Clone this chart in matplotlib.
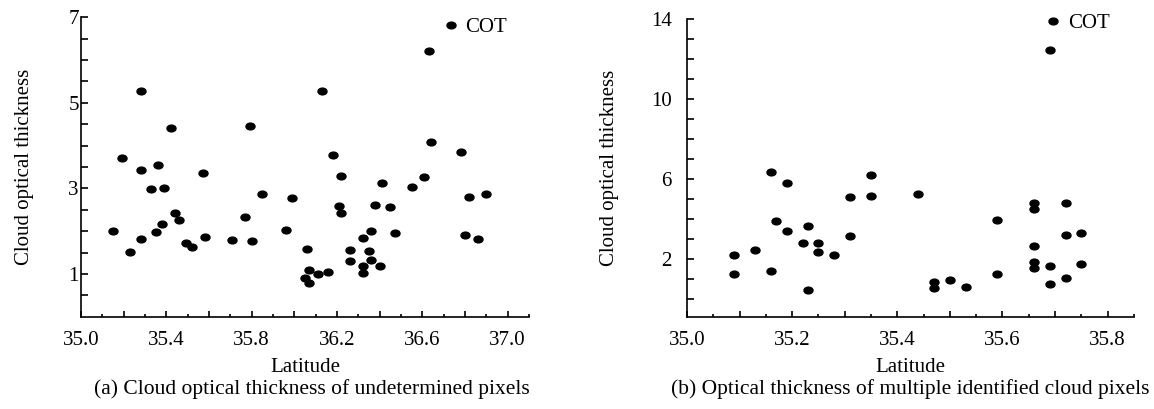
"""Cloud optical thickness vs latitude: (a) undetermined pixels, (b) multiple identified cloud pixels."""

import matplotlib
matplotlib.use("Agg")
import matplotlib.pyplot as plt
from matplotlib.path import Path
from matplotlib.transforms import Affine2D
import numpy as np

matplotlib.rcParams.update({
    "font.family": ["Liberation Serif", "DejaVu Serif"],
    "font.size": 15,
    "axes.spines.top": False,
    "axes.spines.right": False,
    "axes.linewidth": 1.2,
})

# ---------------------------------------------------------------------------
# Data
# ---------------------------------------------------------------------------
lat_a = [35.15, 35.19, 35.23, 35.28, 35.28, 35.28, 35.33, 35.36, 35.35, 35.38,
         35.39, 35.42, 35.44, 35.46, 35.49, 35.52, 35.57, 35.58, 35.71, 35.77,
         35.79, 35.80, 35.85, 35.96, 35.99, 36.06, 36.07, 36.05, 36.07, 36.11,
         36.16, 36.13, 36.18, 36.22, 36.21, 36.22, 36.26, 36.26, 36.32, 36.32,
         36.32, 36.35, 36.36, 36.36, 36.38, 36.40, 36.41, 36.45, 36.47, 36.55,
         36.61, 36.63, 36.64, 36.78, 36.80, 36.82, 36.86, 36.90]
cot_a = [2.00, 3.72, 1.51, 5.27, 3.43, 1.82, 2.98, 3.54, 1.99, 2.17,
         3.01, 4.41, 2.43, 2.25, 1.72, 1.62, 3.35, 1.87, 1.79, 2.32,
         4.47, 1.78, 2.87, 2.03, 2.77, 1.59, 1.08, 0.90, 0.78, 1.00,
         1.04, 5.27, 3.79, 3.29, 2.59, 2.43, 1.55, 1.30, 1.84, 1.19,
         1.01, 1.54, 1.33, 2.00, 2.62, 1.19, 3.13, 2.57, 1.95, 3.04,
         3.27, 6.22, 4.08, 3.86, 1.92, 2.80, 1.81, 2.87]

lat_b = [35.09, 35.09, 35.13, 35.16, 35.16, 35.17, 35.19, 35.19, 35.22, 35.23,
         35.23, 35.25, 35.25, 35.28, 35.31, 35.31, 35.35, 35.35, 35.44, 35.66,
         35.66, 35.72, 35.59, 35.72, 35.75, 35.66, 35.66, 35.66, 35.69, 35.75,
         35.59, 35.72, 35.69, 35.47, 35.47, 35.50, 35.53, 35.69]
cot_b = [2.20, 1.25, 2.45, 6.33, 1.40, 3.90, 5.80, 3.38, 2.82, 3.63,
         0.47, 2.78, 2.37, 2.18, 3.13, 5.10, 6.20, 5.17, 5.25, 4.80,
         4.50, 4.80, 3.93, 3.22, 3.30, 2.67, 1.87, 1.57, 1.67, 1.75,
         1.27, 1.05, 0.73, 0.85, 0.55, 0.93, 0.58, 12.47]

captions = ["(a) Cloud optical thickness of undetermined pixels",
            "(b) Optical thickness of multiple identified cloud pixels"]

# slightly flattened dot, like the scanned markers
dot = Path.unit_circle().transformed(Affine2D().scale(1.0, 0.75))

fig = plt.figure(figsize=(11.54, 4.09), dpi=100)
ax_a = fig.add_axes([0.0702, 0.2257, 0.3882, 0.7320])
ax_b = fig.add_axes([0.5953, 0.2257, 0.3873, 0.7279])

panels = [
    # ax, lat, cot, xlim, ylim, x major, x label step, x minor, y ticks, y label values,
    # legend anchor, ylabel x, ytick pad, caption x
    (ax_a, lat_a, cot_a, (35.0, 37.1), (0, 7),
     np.arange(35.0, 37.01, 0.2), 2, np.arange(35.0, 37.1, 0.1),
     np.arange(0.5, 7.01, 0.5), [1, 3, 5, 7], (0.951, 1.0), -0.104, 1.5, 0.270),
    (ax_b, lat_b, cot_b, (35.0, 35.85), (-0.88, 14),
     np.arange(35.0, 35.81, 0.1), 2, np.arange(35.0, 35.851, 0.05),
     np.arange(0, 14.01, 1), [2, 6, 10, 14], (0.946, 1.017), -0.152, 11, 0.789),
]

for (ax, lat, cot, xlim, ylim, xmaj, step, xmin, yt, ylab_vals,
     leg_anchor, ylab_x, ypad, cap_x), cap in zip(panels, captions):
    ax.plot(lat, cot, linestyle="none", marker=dot, markersize=6.5,
            color="black", label="COT")
    ax.set_xlim(*xlim)
    ax.set_ylim(*ylim)

    ax.set_xticks(xmaj)
    ax.set_xticklabels([f"{v:.1f}" if i % step == 0 else ""
                        for i, v in enumerate(xmaj)])
    ax.set_xticks(xmin, minor=True)
    ax.set_yticks(yt)
    ax.set_yticklabels([f"{v:g}" if round(v, 3) in ylab_vals else "" for v in yt])

    ax.tick_params(axis="x", which="major", direction="in", length=4, width=1.2, pad=10)
    ax.tick_params(axis="x", which="minor", direction="in", length=2, width=1.2)
    ax.tick_params(axis="y", which="major", direction="in", length=5, width=1.2, pad=ypad)

    ax.set_xlabel("Latitude", labelpad=6)
    ax.set_ylabel("Cloud optical thickness")
    ax.yaxis.set_label_coords(ylab_x, 0.5)

    ax.legend(loc="upper right", bbox_to_anchor=leg_anchor, frameon=False,
              handlelength=0.6, handletextpad=0.4, borderpad=0, borderaxespad=0)

    fig.text(cap_x, 0.049, cap, ha="center", va="center", fontsize=15.5)

fig.savefig("out.png", dpi=100)
